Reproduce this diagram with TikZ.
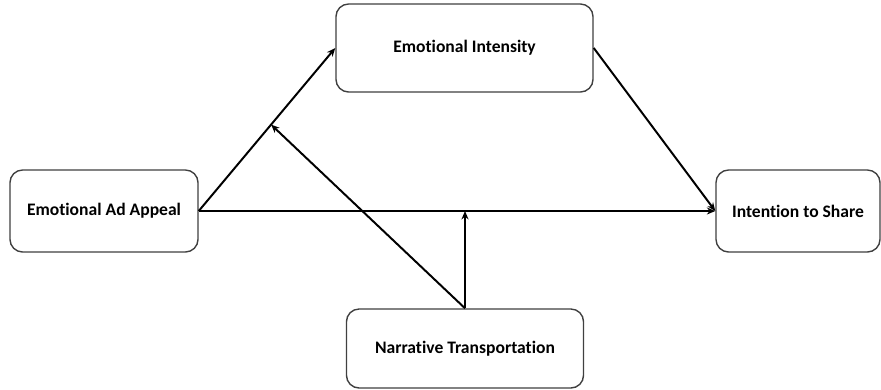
\documentclass[tikz,border=0pt]{standalone}
\usepackage{fontspec}
\setmainfont{Carlito}[Ligatures=CommonOff]
\usetikzlibrary{arrows.meta,calc}
\begin{document}
\begin{tikzpicture}[
  x=0.025cm, y=-0.025cm,
  every node/.style={font=\bfseries\fontsize{12.5}{15}\selectfont},
  construct/.style={draw=black!75, line width=1pt, rectangle, rounded corners=9pt,
                    fill=white, align=center, inner sep=2pt},
  path/.style={draw=black, line width=1.4pt, -{Stealth[length=6pt,width=5pt]}},
]
\useasboundingbox (0,0) rectangle (881,389);

%% ── Constructs ───────────────────────────────────────────────────────────────
\node[construct, minimum width=4.7cm, minimum height=2.05cm]
  (appeal) at (104, 211) {Emotional Ad Appeal};
\node[construct, minimum width=6.425cm, minimum height=2.2cm]
  (intensity) at (464.5, 48) {Emotional Intensity};
\node[construct, minimum width=4.1cm, minimum height=2.05cm]
  (share) at (798, 211) {Intention to Share};
\node[construct, minimum width=5.925cm, minimum height=1.975cm]
  (transport) at (465, 348.5) {Narrative Transportation};

%% ── Direct and mediated paths ────────────────────────────────────────────────
\draw[path] (appeal.east) -- (intensity.west);
\draw[path] (intensity.east) -- (share.west);
\draw[path] (appeal.east) -- (share.west);

%% ── Moderation by narrative transportation ───────────────────────────────────
\coordinate (modA) at ($(appeal.east)!0.53!(intensity.west)$);
\coordinate (modB) at (transport.north |- appeal.east);
\draw[path] (transport.north) -- (modA);
\draw[path] (transport.north) -- (modB);

\end{tikzpicture}
\end{document}
